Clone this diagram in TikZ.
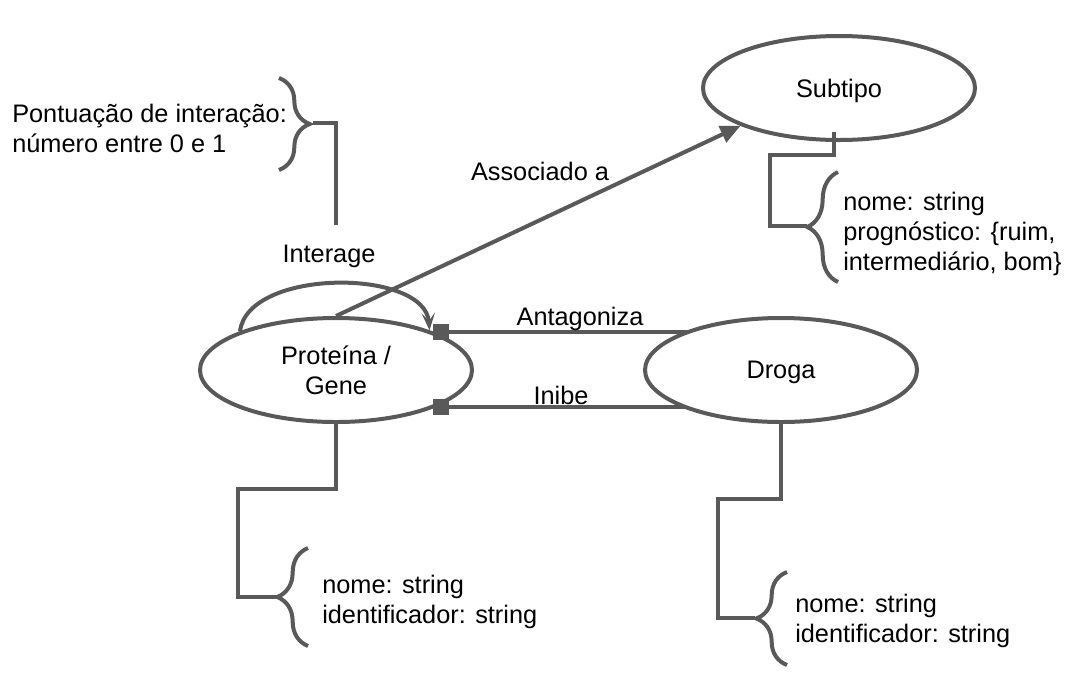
\documentclass[tikz,border=0pt]{standalone}
\usepackage{fontspec}
\setmainfont{Liberation Sans}
\usetikzlibrary{shapes.geometric,arrows.meta,decorations.pathreplacing,backgrounds}
\definecolor{linegray}{HTML}{595959}
\begin{document}
\begin{tikzpicture}[x=0.75pt,y=-0.75pt,
  font=\fontsize{19}{22.5}\selectfont,
  ent/.style={ellipse,draw=linegray,line width=3pt,fill=white,minimum width=204pt,minimum height=78pt,inner sep=0pt,align=center,text depth=0pt},
  attr/.style={align=left,anchor=west,inner sep=0pt},
  lnk/.style={draw=linegray,line width=3pt},
  sq/.style={rectangle,fill=linegray,minimum size=12pt,inner sep=0pt},
  brc/.style={lnk,decorate,decoration={brace,amplitude=23pt}}]
\useasboundingbox (0,0) rectangle (1091,690);

% entities
\node (sub) at (839,88) [ent]{Subtipo};
\node (prot) at (336,370) [ent]{Proteína /\\Gene};
\node (drug) at (781,370) [ent]{Droga};

% relations
\node (antA) at (441,332) [sq]{};
\node (inA) at (441,407) [sq]{};
\begin{scope}[on background layer]
\draw[lnk] (antA)--(antA -| drug.center);
\draw[lnk] (inA)--(inA -| drug.center);
\end{scope}
\node (antL) at (580,319) {Antagoniza};
\node (inL) at (561,395) {Inibe};

\draw[lnk,-{Triangle[length=15pt,width=13pt]}] (prot.north)--(sub.201.5);
\node (assL) at (540,171) {Associado a};

\draw[lnk,-{Stealth[length=13pt,width=10pt,inset=6pt]}] (prot.158) .. controls (248,268) and (425,268) .. (prot.23);
\node (intL) at (329,256) {Interage};

% attributes
\coordinate (intF) at (336,225);
\coordinate (intT) at (313,123);
\draw[lnk] (intF)|-(intT);
\draw[brc] (279,78)--(279,170);
\node (intA) at (12,128) [attr]{Pontuação de interação:\\número entre 0 e 1};

\coordinate (subT) at (807,226);
\draw[lnk] ([shift={(-5,-10)}]sub.south)--++(0,23)-|(770,190)|-(subT);
\draw[brc] (838,282)--(838,172);
\node (subA) at (843,234) [attr]{nome: string\\prognóstico: \{ruim,\\intermediário, bom\}};

\coordinate (protT) at (277,597);
\draw[lnk] (prot.south)--++(0,65)-|(238,540)|-(protT);
\draw[brc] (308,646)--(308,548);
\node (protA) at (322,602) [attr]{nome: string\\identificador: string};

\coordinate (drugT) at (755,618);
\draw[lnk] (drug.south)--++(0,75)-|(718,560)|-(drugT);
\draw[brc] (787,665)--(787,572);
\node (drugA) at (795,621) [attr]{nome: string\\identificador: string};

\end{tikzpicture}
\end{document}
